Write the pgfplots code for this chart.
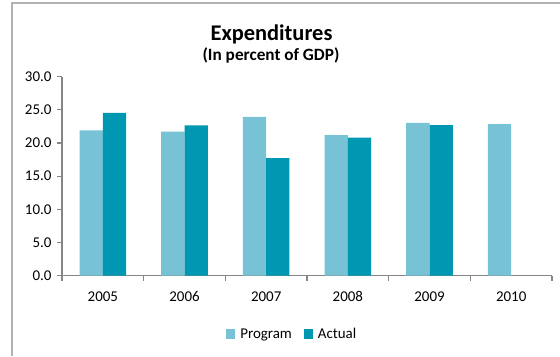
\documentclass[border=0pt]{standalone}
\usepackage{pgfplots}
\pgfplotsset{compat=1.18}
\usepackage{fontspec}
\setmainfont{Carlito}
\definecolor{prog}{HTML}{78C2D6}
\definecolor{act}{HTML}{0097B2}
\definecolor{axgray}{HTML}{868686}
\begin{document}
\begin{tikzpicture}[x=1bp,y=1bp]
\path[use as bounding box] (0,0) rectangle (560,356);
\draw[gray!60, line width=1.3bp] (12,0) -- (12,353) -- (560,353);
\begin{axis}[
  at={(62bp,80.5bp)}, anchor=south west,
  scale only axis, width=490bp, height=198.8bp,
  xmin=-0.5, xmax=5.5, ymin=0, ymax=30,
  axis lines*=left,
  axis line style={axgray, line width=1.2bp},
  ybar=0pt, bar width=23.3bp,
  xtick={0,1,2,3,4,5},
  xticklabels={2005,2006,2007,2008,2009,2010},
  major x tick style={draw=none},
  minor xtick={-0.5,0.5,1.5,2.5,3.5,4.5,5.5},
  minor x tick style={axgray, line width=1.2bp},
  minor tick length=5bp,
  ytick={0,5,...,30},
  y tick style={axgray, line width=1.2bp},
  major tick length=5bp,
  tick align=outside,
  /pgf/number format/assume math mode=true,
  yticklabel={\pgfmathprintnumber[fixed,fixed zerofill,precision=1]{\tick}},
  tick label style={font=\fontsize{15}{17}\selectfont, text=black},
  yticklabel style={xshift=-2bp},
  xticklabel style={yshift=-7bp, text height=10bp, text depth=0bp},
  legend style={at={(0.47,-0.294)}, anchor=center, legend columns=-1, draw=none,
    font=\fontsize{15}{17}\selectfont, column sep=3bp,
    /tikz/every even column/.append style={column sep=10bp}},
  legend image code/.code={\fill[#1] (0bp,-5bp) rectangle (9bp,5bp);},
  clip=false,
]
\addplot[fill=prog, draw=none] coordinates {(0,21.9) (1,21.7) (2,23.95) (3,21.2) (4,23.05) (5,22.85)};
\addplot[fill=act, draw=none] coordinates {(0,24.55) (1,22.65) (2,17.7) (3,20.8) (4,22.7)};
\legend{Program, Actual}
\end{axis}
\node[anchor=base, font=\bfseries\fontsize{22.5}{26}\selectfont] at (271.5,315.3) {Expenditures};
\node[anchor=base, font=\bfseries\fontsize{17.3}{20}\selectfont] at (271,296) {(In percent of GDP)};
\end{tikzpicture}
\end{document}
